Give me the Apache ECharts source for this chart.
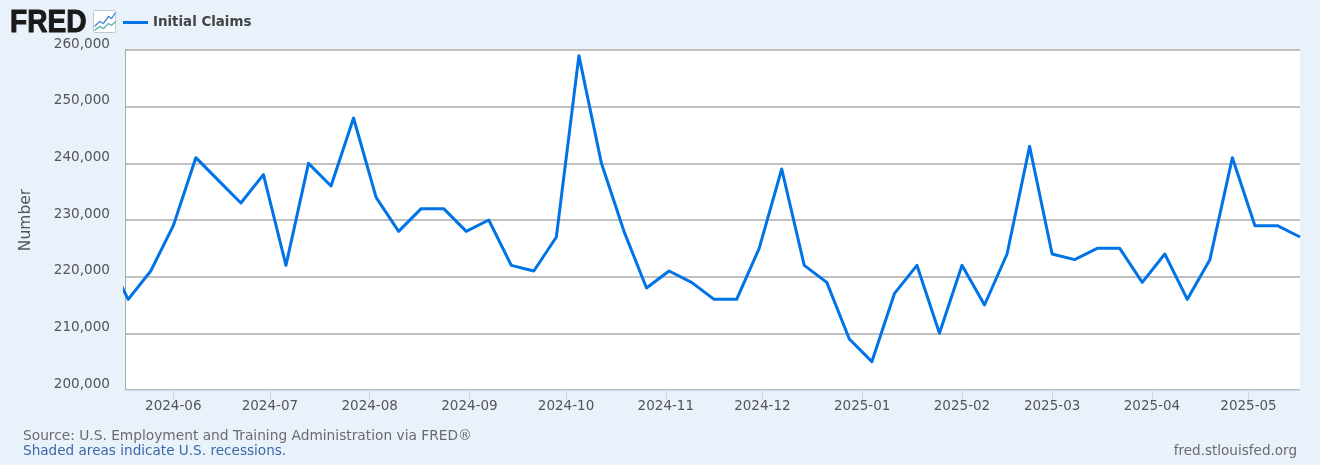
<!DOCTYPE html>
<html><head><meta charset="utf-8">
<style>html,body{margin:0;padding:0;background:#e9f2fa}#c{width:1320px;height:465px}</style>
<script src="https://cdn.jsdelivr.net/npm/echarts@6/dist/echarts.min.js"></script>
</head><body><div id="c"></div>
<script>
const seriesName = 'Initial Claims';
const dates = ['2024-05-11','2024-05-18','2024-05-25','2024-06-01','2024-06-08','2024-06-15','2024-06-22','2024-06-29','2024-07-06','2024-07-13','2024-07-20','2024-07-27','2024-08-03','2024-08-10','2024-08-17','2024-08-24','2024-08-31','2024-09-07','2024-09-14','2024-09-21','2024-09-28','2024-10-05','2024-10-12','2024-10-19','2024-10-26','2024-11-02','2024-11-09','2024-11-16','2024-11-23','2024-11-30','2024-12-07','2024-12-14','2024-12-21','2024-12-28','2025-01-04','2025-01-11','2025-01-18','2025-01-25','2025-02-01','2025-02-08','2025-02-15','2025-02-22','2025-03-01','2025-03-08','2025-03-15','2025-03-22','2025-03-29','2025-04-05','2025-04-12','2025-04-19','2025-04-26','2025-05-03','2025-05-10','2025-05-17'];
const claims = [224000,216000,221000,229000,241000,237000,233000,238000,222000,240000,236000,248000,234000,228000,232000,232000,228000,230000,222000,221000,227000,259000,240000,228000,218000,221000,219000,216000,216000,225000,239000,222000,219000,209000,205000,217000,222000,210000,222000,215000,224000,243000,224000,223000,225000,225000,219000,224000,216000,223000,241000,229000,229000,227000];
const xMin = '2024-05-17', xMax = '2025-05-17';
const yTitle = 'Number';
const sourceText = 'Source: U.S. Employment and Training Administration via FRED®';
const recessionText = 'Shaded areas indicate U.S. recessions.';
const siteText = 'fred.stlouisfed.org';

const ts = s => new Date(s + 'T00:00:00').getTime();
const font = '"DejaVu Sans", Verdana, sans-serif';
const chart = echarts.init(document.getElementById('c'), null, {renderer:'canvas'});
chart.setOption({
  animation:false,
  backgroundColor:'#e9f2fa',
  textStyle:{fontFamily:font},
  grid:{left:125,right:20,top:50,bottom:75,backgroundColor:'#ffffff',show:true,borderWidth:0},
  legend:{show:true,left:118,top:11,itemWidth:25,itemHeight:3,icon:'rect',itemGap:5,
    data:[seriesName],
    textStyle:{fontFamily:font,fontSize:13.4,fontWeight:'bold',color:'#444444'}},
  xAxis:{type:'time',min:ts(xMin),max:ts(xMax),splitNumber:12,
    axisLine:{show:true,lineStyle:{color:'#ccd6eb',width:1}},
    axisTick:{show:true,length:10,lineStyle:{color:'#ccd6eb',width:1}},
    axisLabel:{show:true,color:'#555555',fontSize:13.5,fontFamily:font,margin:9,hideOverlap:false,
      showMinLabel:false,showMaxLabel:false,
      formatter:v=>echarts.time.format(v,'{yyyy}-{MM}',false)},
    splitLine:{show:false}},
  yAxis:{type:'value',min:200000,max:260000,interval:10000,
    name:yTitle,nameLocation:'middle',nameGap:91,nameRotate:90,
    nameTextStyle:{color:'#555555',fontSize:15.5,fontFamily:font},
    axisLine:{show:true,lineStyle:{color:'#a9a9a9',width:1}},
    axisTick:{show:false},
    axisLabel:{color:'#555555',fontSize:13.6,fontFamily:font,margin:15,verticalAlign:'bottom',lineHeight:12,
      formatter:v=>v.toLocaleString('en-US')},
    splitLine:{show:true,lineStyle:{color:'#c0c0c0',width:2}}},
  series:[{name:seriesName,type:'line',data:dates.map((d,i)=>[ts(d),claims[i]]),
    showSymbol:false,symbol:'none',smooth:false,clip:true,
    lineStyle:{color:'#0073e6',width:3,join:'round'},itemStyle:{color:'#0073e6'}}],
  graphic:[
    {type:'text',x:10,y:7.5,scaleX:1.04,scaleY:1.16,style:{text:'FRED',font:'900 27px "Liberation Sans", Arial, sans-serif',fill:'#1a1a1a',stroke:'#1a1a1a',lineWidth:0.9}},
    {type:'group',left:92,top:10,children:[
      {type:'rect',shape:{x:0,y:0,width:22,height:22,r:1},style:{fill:'#ffffff',stroke:'#c8c8c8',lineWidth:1}},
      {type:'polyline',shape:{points:[[1,16],[6,11],[10,13],[15,6],[18,8],[22,2]]},style:{fill:'none',stroke:'#3a87e0',lineWidth:1.3}},
      {type:'polyline',shape:{points:[[1,20],[6,16],[10,18],[15,13],[18,15],[22,11]]},style:{fill:'none',stroke:'#4db39a',lineWidth:1.3}}
    ]},
    {type:'text',left:23,top:429,style:{text:sourceText,font:'13.75px '+font,fill:'#6b6b6b'}},
    {type:'text',left:23,top:444,style:{text:recessionText,font:'13.6px '+font,fill:'#3c69a8'}},
    {type:'text',right:23,top:444,style:{text:siteText,font:'13.55px '+font,fill:'#6b6b6b',align:'right'}}
  ]
});
</script></body></html>
